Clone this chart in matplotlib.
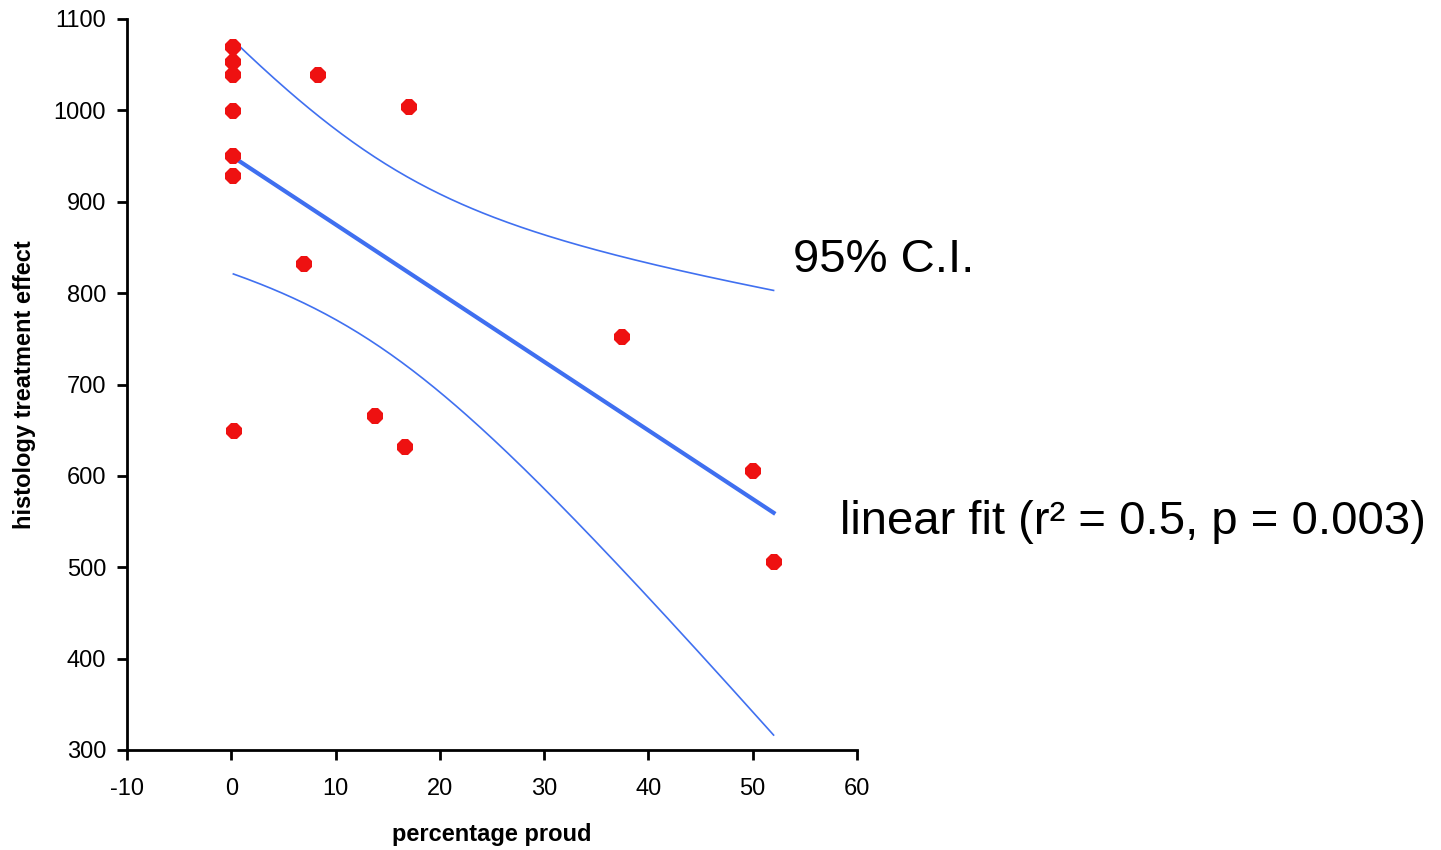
import numpy as np
import matplotlib
matplotlib.use("Agg")
import matplotlib.pyplot as plt

plt.rcParams['font.family'] = ['Liberation Sans', 'DejaVu Sans']
plt.rcParams['axes.unicode_minus'] = False

# data
pct_proud = [0.2, 0.2, 0.2, 0.2, 0.2, 0.2, 0.3, 8.3, 17.0, 7.0, 13.8, 16.7, 37.5, 50.0, 52.0]
treat_effect = [1069, 1053, 1039, 999, 950, 928, 649, 1039, 1004, 832, 666, 632, 752, 605, 506]
x_ticks = [-10, 0, 10, 20, 30, 40, 50, 60]
y_ticks = [300, 400, 500, 600, 700, 800, 900, 1000, 1100]

x = np.array(pct_proud)
y = np.array(treat_effect)
n = len(x)

# least squares fit + Working-Hotelling 95% confidence band
slope, intercept = np.polyfit(x, y, 1)
resid = y - (slope * x + intercept)
s = np.sqrt(np.sum(resid ** 2) / (n - 2))
sxx = np.sum((x - x.mean()) ** 2)
F_crit = 3.806  # F(0.95; 2, 13)
W = np.sqrt(2 * F_crit)

xf = np.linspace(0.2, 52, 200)
yf = slope * xf + intercept
half = W * s * np.sqrt(1 / n + (xf - x.mean()) ** 2 / sxx)

fig = plt.figure(figsize=(14.41, 8.5), dpi=100)
ax = fig.add_axes([127 / 1441, 100 / 850, 730 / 1441, 731 / 850])

ax.plot(xf, yf + half, color='#4070f0', lw=1.2)
ax.plot(xf, yf - half, color='#4070f0', lw=1.2)
ax.plot(xf, yf, color='#3f6ff0', lw=3)
ax.plot(x, y, '8', color='#ee1111', markersize=12, markeredgewidth=0, zorder=5)

ax.set_xlim(-10, 60)
ax.set_ylim(300, 1100)
ax.set_xticks(x_ticks)
ax.set_yticks(y_ticks)
ax.tick_params(labelsize=17, width=2, length=7, direction='out')
ax.tick_params(axis='x', pad=13)
ax.tick_params(axis='y', pad=8)
for side in ['top', 'right']:
    ax.spines[side].set_visible(False)
for side in ['left', 'bottom']:
    ax.spines[side].set_linewidth(2)

ax.set_xlabel('percentage proud', fontsize=17, fontweight='bold', labelpad=17)
ax.set_ylabel('histology treatment effect', fontsize=17, fontweight='bold', labelpad=13)

fig.text(793 / 1441, 1 - 260 / 850, '95% C.I.', fontsize=34, va='center', ha='left')
fig.text(840 / 1441, 1 - 522 / 850, 'linear fit (r\u00b2 = 0.5, p = 0.003)', fontsize=34,
         va='center', ha='left')

fig.savefig('out.png', dpi=100)
